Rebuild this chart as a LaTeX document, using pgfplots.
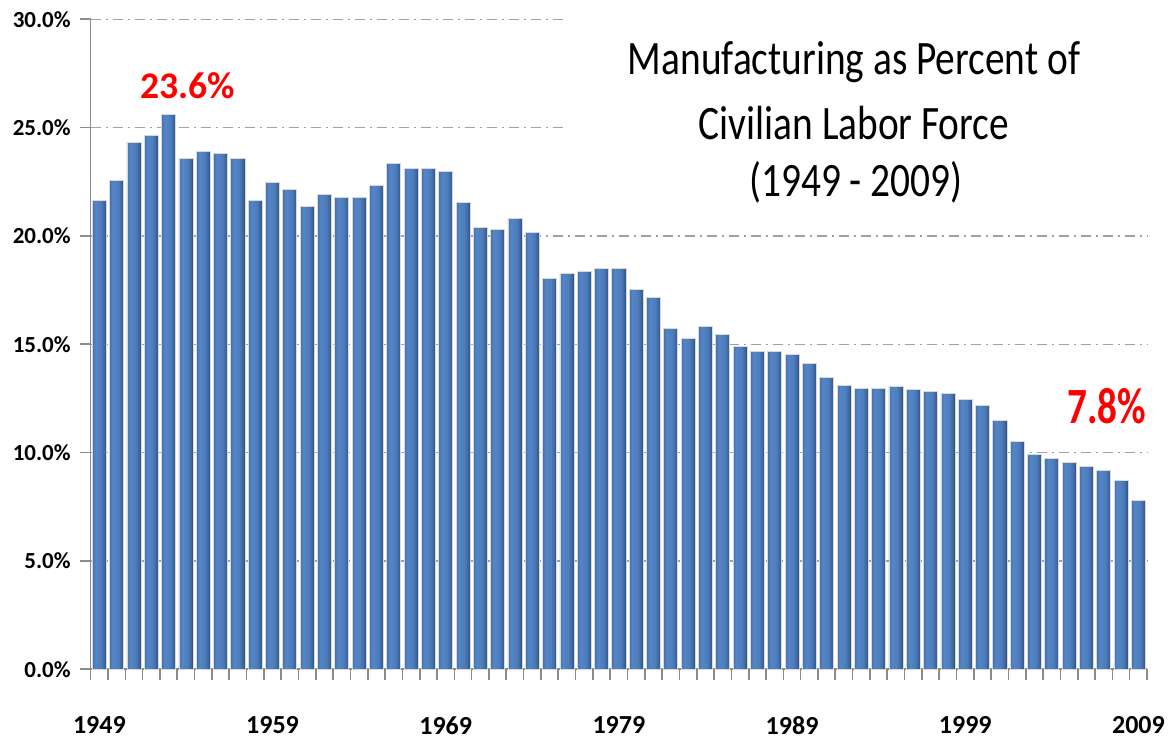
\documentclass[border=0pt]{standalone}
\usepackage{pgfplots}
\pgfplotsset{compat=1.18}
\usepackage{pgfplotstable}
\usepackage{graphicx}
\usepackage{fontspec}
\setmainfont{Carlito}
\definecolor{barA}{HTML}{4573B0}
\definecolor{barB}{HTML}{5485C6}
\definecolor{barD}{HTML}{4E7DBD}
\definecolor{barE}{HTML}{3D659C}
\definecolor{barC}{HTML}{2B4770}
\definecolor{gridc}{HTML}{A0A0A0}
\definecolor{axc}{HTML}{8C8C8C}
\pgfdeclarehorizontalshading{barshade}{100bp}{color(0bp)=(barA); color(25bp)=(barA); color(36bp)=(barB); color(55bp)=(barD); color(68bp)=(barE); color(75bp)=(barC); color(100bp)=(barC)}
\pgfplotstableread{
year value
1949 21.64
1950 22.55
1951 24.33
1952 24.64
1953 25.60
1954 23.58
1955 23.89
1956 23.81
1957 23.58
1958 21.64
1959 22.47
1960 22.16
1961 21.35
1962 21.93
1963 21.78
1964 21.78
1965 22.32
1966 23.35
1967 23.13
1968 23.13
1969 22.98
1970 21.56
1971 20.38
1972 20.29
1973 20.81
1974 20.15
1975 18.04
1976 18.27
1977 18.35
1978 18.50
1979 18.50
1980 17.54
1981 17.17
1982 15.72
1983 15.29
1984 15.81
1985 15.44
1986 14.90
1987 14.69
1988 14.69
1989 14.54
1990 14.10
1991 13.49
1992 13.10
1993 12.96
1994 12.96
1995 13.04
1996 12.90
1997 12.83
1998 12.75
1999 12.46
2000 12.16
2001 11.47
2002 10.52
2003 9.90
2004 9.75
2005 9.53
2006 9.38
2007 9.16
2008 8.72
2009 7.80
}\datatable
\begin{document}
\begin{tikzpicture}
\useasboundingbox (-45.35pt,-34.35pt) rectangle (541.15pt,334.65pt);
\begin{axis}[
  at={(0pt,0pt)}, anchor=south west,
  scale only axis, width=528.2pt, height=325pt,
  xmin=1948.5, xmax=2009.5, ymin=0, ymax=30,
  axis lines*=left,
  axis line style={-, draw=axc, line width=0.8pt},
  /pgf/number format/assume math mode=true,
  ytick={0,5,...,30},
  yticklabel={\pgfmathprintnumber[fixed,fixed zerofill,precision=1]{\tick}\%},
  yticklabel style={font=\bfseries\fontsize{11.5}{12}\selectfont, xshift=-1pt},
  xtick={1948.5,1949.5,...,2009.5},
  xticklabels={},
  tick align=outside,
  major tick length=5.5pt,
  tick style={draw=axc, line width=0.8pt},
  extra x ticks={1949,1959,1969,1979,1989,1999,2009},
  extra x tick labels={1949,1959,1969,1979,1989,1999,2009},
  extra x tick style={major tick length=0pt,
    xticklabel style={font=\bfseries\fontsize{13}{14}\selectfont, yshift=-20pt}},
  ymajorgrids,
  major grid style={draw=gridc, line width=0.75pt, dash pattern=on 5pt off 2.5pt on 1pt off 2.5pt},
]
\pgfplotsinvokeforeach{1949,...,2009}{
\addplot[ybar, bar width=0.81, shade, shading=barshade,
  draw=black!15, line width=0.4pt] table[x=year,y=value, restrict x to domain=#1:#1]{\datatable};
}
\end{axis}
\fill[white] (237.65pt,227pt) rectangle (530pt,334pt);
\node[anchor=base, inner sep=0pt] at (381.65pt,297.15pt) {\scalebox{0.82}[1]{\fontsize{24}{28}\selectfont Manufacturing as Percent of}};
\node[anchor=base, inner sep=0pt] at (381.65pt,264.65pt) {\scalebox{0.82}[1]{\fontsize{24}{28}\selectfont Civilian Labor Force}};
\node[anchor=base, inner sep=0pt] at (382.65pt,236.15pt) {\scalebox{0.82}[1]{\fontsize{24}{28}\selectfont (1949 - 2009)}};
\node[anchor=base, inner sep=0pt, text=red] at (48.65pt,285.15pt) {\bfseries\fontsize{18.8}{22}\selectfont 23.6\%};
\node[anchor=base, inner sep=0pt, text=red] at (508.15pt,123pt) {\scalebox{0.77}[1]{\bfseries\fontsize{25.4}{28}\selectfont 7.8\%}};
\end{tikzpicture}
\end{document}
